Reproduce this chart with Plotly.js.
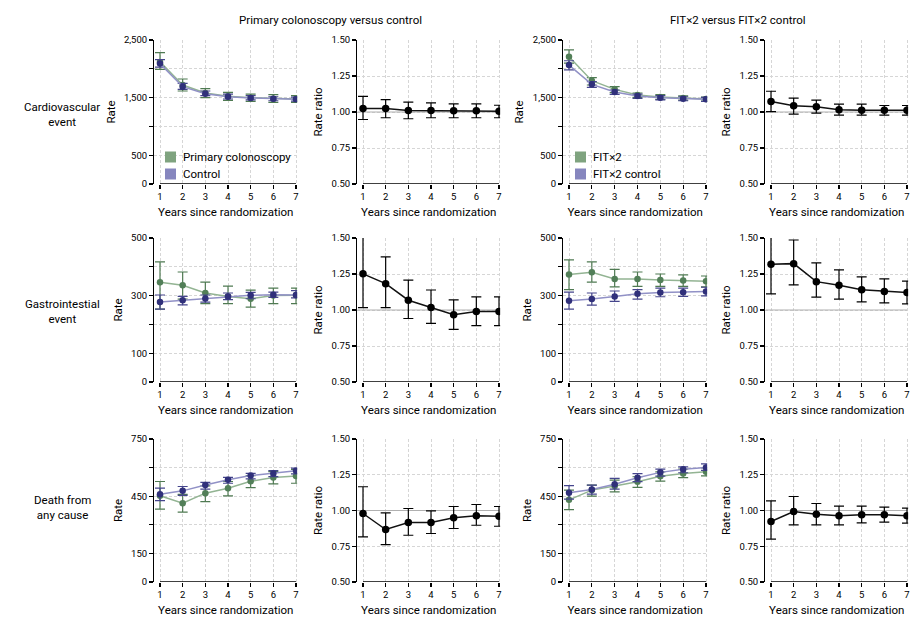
<!DOCTYPE html>
<html>
<head>
<meta charset="utf-8">
<script src="https://cdn.plot.ly/plotly-3.0.1.min.js"></script>
<style>html,body{margin:0;padding:0;background:#fff;}#chart{width:918px;height:630px;}</style>
</head>
<body>
<div id="chart"></div>
<script>
const years = [1, 2, 3, 4, 5, 6, 7];

const columnTitles = ['Primary colonoscopy versus control', 'FIT×2 versus FIT×2 control'];
const rowTitles = ['Cardiovascular<br>event', 'Gastrointestial<br>event', 'Death from<br>any cause'];
const seriesNames1 = ['Primary colonoscopy', 'Control'];
const seriesNames2 = ['FIT×2', 'FIT×2 control'];

// Cardiovascular event
const cardioColonoscopy   = [2120, 1719, 1580, 1522, 1499, 1481, 1476];
const cardioColonoscopyLo = [1990, 1615, 1499, 1452, 1435, 1418, 1418];
const cardioColonoscopyHi = [2280, 1823, 1655, 1591, 1562, 1551, 1533];
const cardioControl   = [2090, 1690, 1568, 1515, 1495, 1478, 1472];
const cardioControlLo = [2030, 1643, 1534, 1476, 1460, 1445, 1440];
const cardioControlHi = [2160, 1748, 1615, 1562, 1535, 1515, 1508];
const cardioRR1   = [1.024, 1.024, 1.010, 1.010, 1.008, 1.008, 1.006];
const cardioRR1Lo = [0.948, 0.960, 0.953, 0.960, 0.960, 0.960, 0.960];
const cardioRR1Hi = [1.109, 1.086, 1.068, 1.063, 1.056, 1.056, 1.047];
const cardioFit   = [2210, 1794, 1643, 1545, 1510, 1493, 1476];
const cardioFitLo = [2100, 1719, 1586, 1505, 1470, 1455, 1440];
const cardioFitHi = [2330, 1846, 1690, 1580, 1551, 1530, 1510];
const cardioFitCtl   = [2065, 1730, 1597, 1528, 1499, 1481, 1470];
const cardioFitCtlLo = [1980, 1678, 1557, 1487, 1460, 1445, 1435];
const cardioFitCtlHi = [2140, 1777, 1632, 1562, 1535, 1515, 1505];
const cardioRR2   = [1.073, 1.043, 1.036, 1.015, 1.013, 1.013, 1.013];
const cardioRR2Lo = [1.003, 0.985, 0.992, 0.978, 0.978, 0.978, 0.978];
const cardioRR2Hi = [1.144, 1.096, 1.082, 1.054, 1.054, 1.045, 1.045];

// Gastrointestinal event
const giColonoscopy   = [346, 336, 309, 297, 289, 300, 301];
const giColonoscopyLo = [253, 288, 272, 272, 260, 272, 272];
const giColonoscopyHi = [417, 382, 347, 333, 319, 326, 326];
const giControl   = [278, 284, 290, 297, 301, 303, 302];
const giControlLo = [253, 268, 277, 286, 289, 294, 292];
const giControlHi = [302, 297, 302, 309, 311, 312, 317];
const giRR1   = [1.251, 1.183, 1.068, 1.017, 0.967, 0.990, 0.990];
const giRR1Lo = [1.017, 1.017, 0.941, 0.907, 0.866, 0.891, 0.891];
const giRR1Hi = [1.540, 1.369, 1.208, 1.139, 1.070, 1.091, 1.091];
const giFit   = [373, 381, 358, 358, 354, 352, 350];
const giFitLo = [321, 347, 330, 332, 332, 332, 330];
const giFitHi = [424, 417, 391, 382, 375, 372, 368];
const giFitCtl   = [282, 288, 297, 306, 311, 312, 314];
const giFitCtlLo = [253, 267, 280, 288, 296, 297, 299];
const giFitCtlHi = [312, 309, 316, 321, 326, 326, 329];
const giRR2   = [1.318, 1.322, 1.197, 1.172, 1.140, 1.128, 1.121];
const giRR2Lo = [1.112, 1.174, 1.089, 1.075, 1.057, 1.050, 1.043];
const giRR2Hi = [1.560, 1.486, 1.327, 1.278, 1.230, 1.216, 1.200];

// Death from any cause
const deathColonoscopy   = [452, 413, 466, 492, 528, 548, 556];
const deathColonoscopyLo = [382, 366, 422, 452, 495, 515, 518];
const deathColonoscopyHi = [527, 460, 504, 527, 558, 579, 591];
const deathControl   = [460, 478, 509, 536, 558, 569, 583];
const deathControlLo = [427, 454, 487, 518, 541, 553, 567];
const deathControlHi = [492, 501, 523, 549, 570, 584, 597];
const deathRR1   = [0.979, 0.867, 0.916, 0.916, 0.949, 0.963, 0.960];
const deathRR1Lo = [0.815, 0.762, 0.827, 0.839, 0.874, 0.897, 0.890];
const deathRR1Hi = [1.166, 0.984, 1.014, 0.998, 1.028, 1.042, 1.028];
const deathFit   = [431, 482, 503, 526, 555, 569, 578];
const deathFitLo = [380, 450, 473, 496, 529, 547, 557];
const deathFitHi = [482, 508, 534, 552, 578, 592, 599];
const deathFitCtl   = [468, 485, 513, 547, 575, 591, 601];
const deathFitCtlLo = [435, 461, 487, 526, 555, 573, 585];
const deathFitCtlHi = [505, 508, 543, 568, 592, 604, 620];
const deathRR2   = [0.923, 0.993, 0.974, 0.963, 0.970, 0.970, 0.963];
const deathRR2Lo = [0.800, 0.900, 0.900, 0.900, 0.914, 0.919, 0.912];
const deathRR2Hi = [1.067, 1.098, 1.049, 1.030, 1.030, 1.023, 1.016];

// Tick labels
const cardioTickVals = [0, 500, 1000, 1500, 2000, 2500];
const cardioTickText = ['0', '500', '', '1,500', '', '2,500'];
const giTickVals = [0, 100, 200, 300, 400, 500];
const giTickText = ['0', '100', '', '300', '', '500'];
const deathTickVals = [0, 150, 300, 450, 600, 750];
const deathTickText = ['0', '150', '', '450', '', '750'];
const ratioTickVals = [0.5, 0.75, 1.0, 1.25, 1.5];
const ratioTickText = ['0.50', '0.75', '1.00', '1.25', '1.50'];
const xTickVals = years;

// ---------- styling / layout ----------
const FONT = 'Roboto, "Liberation Sans", sans-serif';
const GREEN_LINE = '#93b493', GREEN_MK = '#527f58', GREEN_ERR = '#4f7a52', GREEN_LEG = '#7fa37f';
const PURP_LINE = '#9191c6', PURP_MK = '#30307a', PURP_ERR = '#45458c', PURP_LEG = '#8686be';

const W = 918, H = 630;
const x1px = [160, 363, 569, 771];
const x7px = [296, 499, 706, 907];
const rowTopPx = [40, 238, 439];
const rowBotPx = [184, 382, 582];
const XMIN = 0.75, XMAX = 7.05;

const rowData = [
  {a: cardioColonoscopy, aLo: cardioColonoscopyLo, aHi: cardioColonoscopyHi, b: cardioControl, bLo: cardioControlLo, bHi: cardioControlHi,
   c: cardioFit, cLo: cardioFitLo, cHi: cardioFitHi, d: cardioFitCtl, dLo: cardioFitCtlLo, dHi: cardioFitCtlHi,
   r1: cardioRR1, r1Lo: cardioRR1Lo, r1Hi: cardioRR1Hi, r2: cardioRR2, r2Lo: cardioRR2Lo, r2Hi: cardioRR2Hi,
   tv: cardioTickVals, tt: cardioTickText},
  {a: giColonoscopy, aLo: giColonoscopyLo, aHi: giColonoscopyHi, b: giControl, bLo: giControlLo, bHi: giControlHi,
   c: giFit, cLo: giFitLo, cHi: giFitHi, d: giFitCtl, dLo: giFitCtlLo, dHi: giFitCtlHi,
   r1: giRR1, r1Lo: giRR1Lo, r1Hi: giRR1Hi, r2: giRR2, r2Lo: giRR2Lo, r2Hi: giRR2Hi,
   tv: giTickVals, tt: giTickText},
  {a: deathColonoscopy, aLo: deathColonoscopyLo, aHi: deathColonoscopyHi, b: deathControl, bLo: deathControlLo, bHi: deathControlHi,
   c: deathFit, cLo: deathFitLo, cHi: deathFitHi, d: deathFitCtl, dLo: deathFitCtlLo, dHi: deathFitCtlHi,
   r1: deathRR1, r1Lo: deathRR1Lo, r1Hi: deathRR1Hi, r2: deathRR2, r2Lo: deathRR2Lo, r2Hi: deathRR2Hi,
   tv: deathTickVals, tt: deathTickText}
];

const traces = [];
const layout = {
  width: W, height: H,
  margin: {l: 0, r: 0, t: 0, b: 0},
  paper_bgcolor: '#fff', plot_bgcolor: '#fff',
  font: {family: FONT, size: 10, color: '#000'},
  showlegend: false,
  shapes: [], annotations: []
};

function sub(v, w) { return v.map((x, i) => x - w[i]); }

function errObj(v, lo, hi, color) {
  return {type: 'data', symmetric: false, array: sub(hi, v), arrayminus: sub(v, lo),
          color: color, thickness: 1.2, width: 5};
}

function addRateTrace(k, v, lo, hi, lineC, mkC, errC, name) {
  traces.push({
    x: years, y: v, xaxis: 'x' + k, yaxis: 'y' + k, type: 'scatter', mode: 'lines+markers', name: name,
    line: {color: lineC, width: 1.5}, marker: {color: mkC, size: 6.5},
    error_y: errObj(v, lo, hi, errC), hoverinfo: 'x+y'
  });
}
function addRatioTrace(k, v, lo, hi) {
  traces.push({
    x: years, y: v, xaxis: 'x' + k, yaxis: 'y' + k, type: 'scatter', mode: 'lines+markers', name: 'Rate ratio',
    line: {color: '#111', width: 1.5}, marker: {color: '#000', size: 7.5},
    error_y: errObj(v, lo, hi, '#000'), hoverinfo: 'x+y'
  });
}

for (let r = 0; r < 3; r++) {
  const D = rowData[r];
  for (let c = 0; c < 4; c++) {
    const k = r * 4 + c + 1;
    const isRatio = (c % 2 === 1);
    const pxPerUnit = (x7px[c] - x1px[c]) / 6;
    const left = x1px[c] - (1 - XMIN) * pxPerUnit;
    const right = x7px[c] + (XMAX - 7) * pxPerUnit;
    const ax = k === 1 ? '' : String(k);
    const yr = isRatio ? [0.5, 1.5] : [0, D.tv[D.tv.length - 1]];
    layout['xaxis' + ax] = {
      domain: [left / W, right / W], range: [XMIN, XMAX], anchor: 'y' + ax,
      tickvals: xTickVals, ticks: 'outside', ticklen: 4, tickwidth: 1.2, tickcolor: '#000',
      showline: false, zeroline: false, showgrid: true, gridcolor: '#d6d6d6', griddash: '3px,2px', gridwidth: 1,
      tickfont: {size: 9.5, color: '#000', family: FONT},
      title: {text: 'Years since randomization', font: {size: 11.5, color: '#000', family: FONT}, standoff: 6},
      fixedrange: true
    };
    layout['yaxis' + ax] = {
      domain: [1 - rowBotPx[r] / H, 1 - rowTopPx[r] / H], range: yr, anchor: 'x' + ax,
      tickvals: isRatio ? ratioTickVals : D.tv, ticktext: isRatio ? ratioTickText : D.tt,
      ticks: 'outside', ticklen: 4, tickwidth: 1.2, tickcolor: '#000',
      showline: true, linecolor: '#000', linewidth: 1.3, zeroline: false,
      showgrid: true, gridcolor: '#d6d6d6', griddash: '3px,2px', gridwidth: 1,
      tickfont: {size: 9.5, color: '#000', family: FONT},
      title: {text: isRatio ? 'Rate ratio' : 'Rate', font: {size: 11.5, color: '#000', family: FONT}, standoff: 6},
      fixedrange: true
    };
    // x axis line from 1 to 7
    layout.shapes.push({type: 'line', xref: 'x' + ax, yref: 'y' + ax, x0: 1, x1: 7, y0: yr[0], y1: yr[0],
                        line: {color: '#000', width: 1.3}, layer: 'above'});
    if (isRatio) {
      layout.shapes.push({type: 'line', xref: 'x' + ax, yref: 'y' + ax, x0: XMIN, x1: 7, y0: 1, y1: 1,
                          line: {color: '#b0b0b0', width: 1.2}, layer: 'between'});
      if (c === 1) addRatioTrace(k, D.r1, D.r1Lo, D.r1Hi);
      else addRatioTrace(k, D.r2, D.r2Lo, D.r2Hi);
    } else if (c === 0) {
      addRateTrace(k, D.a, D.aLo, D.aHi, GREEN_LINE, GREEN_MK, GREEN_ERR, seriesNames1[0]);
      addRateTrace(k, D.b, D.bLo, D.bHi, PURP_LINE, PURP_MK, PURP_ERR, seriesNames1[1]);
    } else {
      addRateTrace(k, D.c, D.cLo, D.cHi, GREEN_LINE, GREEN_MK, GREEN_ERR, seriesNames2[0]);
      addRateTrace(k, D.d, D.dLo, D.dHi, PURP_LINE, PURP_MK, PURP_ERR, seriesNames2[1]);
    }
  }
}

// legends (key squares + labels) inside the first-row rate panels
const legendKeys = [
  {cx: 170.5, names: seriesNames1},
  {cx: 580.5, names: seriesNames2}
];
const legendRowsPx = [157, 174];
const legendColors = [GREEN_LEG, PURP_LEG];
legendKeys.forEach(L => {
  L.names.forEach((nm, i) => {
    const cy = legendRowsPx[i];
    layout.shapes.push({type: 'rect', xref: 'paper', yref: 'paper',
      x0: (L.cx - 5.5) / W, x1: (L.cx + 5.5) / W, y0: 1 - (cy + 5.5) / H, y1: 1 - (cy - 5.5) / H,
      fillcolor: legendColors[i], line: {width: 0}, layer: 'above'});
    layout.annotations.push({text: nm, xref: 'paper', yref: 'paper', x: (L.cx + 10.5) / W, y: 1 - cy / H,
      xanchor: 'left', yanchor: 'middle', showarrow: false, font: {size: 11.5, color: '#000', family: FONT}});
  });
});

// column titles
const colCenters = [330, 738];
columnTitles.forEach((t, i) => layout.annotations.push({
  text: t, xref: 'paper', yref: 'paper', x: colCenters[i] / W, y: 1 - 20 / H,
  xanchor: 'center', yanchor: 'middle', showarrow: false, font: {size: 11.5, color: '#000', family: FONT}
}));
// row titles
const rowCenters = [114, 311, 507];
rowTitles.forEach((t, i) => layout.annotations.push({
  text: t, xref: 'paper', yref: 'paper', x: 62 / W, y: 1 - rowCenters[i] / H,
  xanchor: 'center', yanchor: 'middle', align: 'center', showarrow: false, font: {size: 11.5, color: '#000', family: FONT}
}));

Plotly.newPlot('chart', traces, layout, {displayModeBar: false, staticPlot: true});
</script>
</body>
</html>
